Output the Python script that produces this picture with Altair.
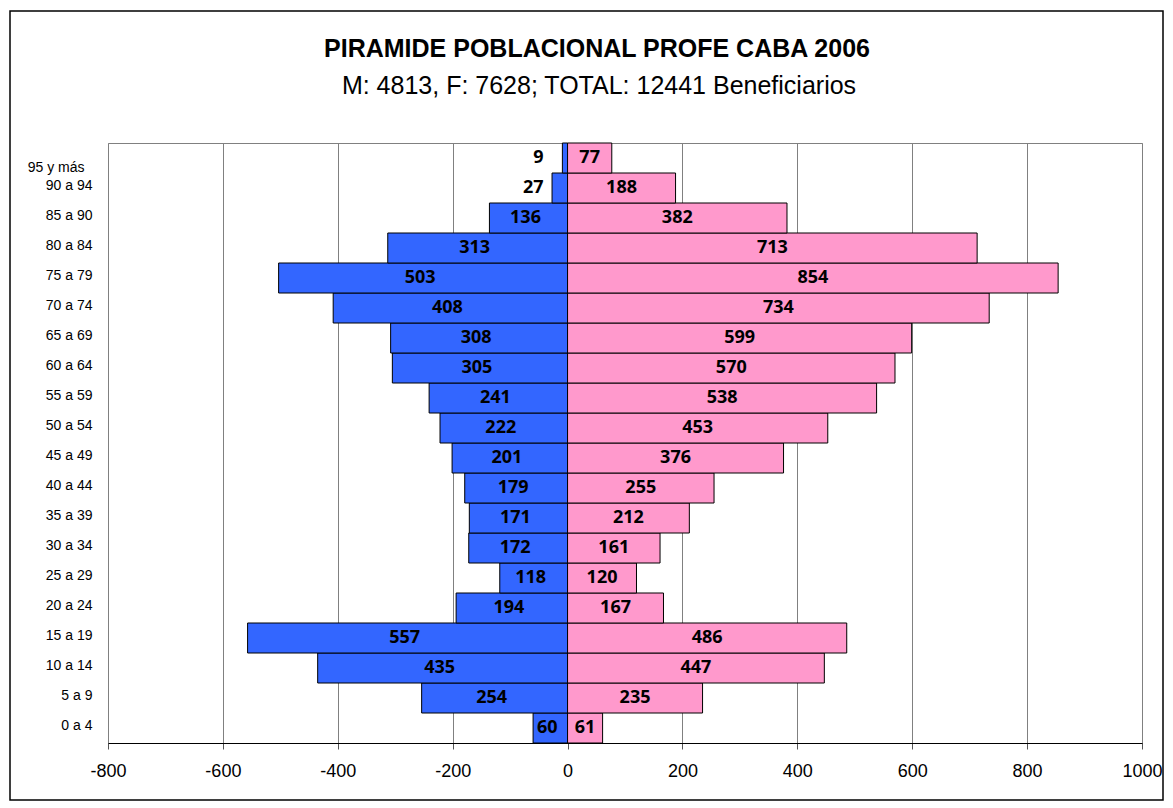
import altair as alt
import pandas as pd

ages = ["0 a 4", "5 a 9", "10 a 14", "15 a 19", "20 a 24", "25 a 29", "30 a 34",
        "35 a 39", "40 a 44", "45 a 49", "50 a 54", "55 a 59", "60 a 64", "65 a 69",
        "70 a 74", "75 a 79", "80 a 84", "85 a 90", "90 a 94", "95 y más"]
male = [60, 254, 435, 557, 194, 118, 172, 171, 179, 201, 222, 241, 305, 308,
        408, 503, 313, 136, 27, 9]
female = [61, 235, 447, 486, 167, 120, 161, 212, 255, 376, 453, 538, 570, 599,
          734, 854, 713, 382, 188, 77]
x_ticks = [-800, -600, -400, -200, 0, 200, 400, 600, 800, 1000]
title_text = "PIRAMIDE POBLACIONAL PROFE CABA 2006"
subtitle_text = "M: 4813, F: 7628; TOTAL: 12441 Beneficiarios"

rows = []
for a, m, f in zip(ages, male, female):
    rows.append({"age": a, "sex": "M", "v": m, "signed": -m})
    rows.append({"age": a, "sex": "F", "v": f, "signed": f})
df = pd.DataFrame(rows)

order = list(reversed(ages))

W, H = 1034, 600

xscale = alt.Scale(domain=[-800, 1000], nice=False, zero=False)
yscale = alt.Scale(domain=order, paddingInner=0, paddingOuter=0)

base = alt.Chart(df).transform_calculate(mid="datum.signed / 2")

bars = base.mark_bar(stroke="black", strokeWidth=1).encode(
    x=alt.X("signed:Q", scale=xscale, title=None,
            axis=alt.Axis(values=x_ticks, grid=True, gridColor="#808080", gridWidth=1,
                          domainColor="black", domainWidth=1, tickColor="#555555",
                          tickSize=6, labelFont="Liberation Sans", labelFontSize=18,
                          labelColor="black", labelPadding=13, labelFlush=False,
                          labelExpr="'' + datum.value")),
    y=alt.Y("age:N", sort=order, scale=yscale, title=None,
            axis=alt.Axis(domain=False, ticks=False, labelFont="Liberation Sans",
                          labelFontSize=14, labelColor="black", labelBaseline="middle",
                          labelPadding={"condition": {"test": "datum.value == '95 y más'", "value": 24}, "value": 16},
                          labelOffset={"condition": {"test": "datum.value == '95 y más'", "value": 10}, "value": -2})),
    color=alt.Color("sex:N", scale=alt.Scale(domain=["M", "F"], range=["#3366FF", "#FF99CC"]),
                    legend=None),
)

lab_font = dict(font="Noto Sans", fontSize=18, fontWeight="bold", color="black",
                baseline="middle")

lab_f = base.transform_filter("datum.sex == 'F'").mark_text(align="center", **lab_font).encode(
    x=alt.X("mid:Q", scale=xscale), y=alt.Y("age:N", sort=order, scale=yscale), text="v:Q")
lab_m = base.transform_filter("datum.sex == 'M' && datum.v >= 50").mark_text(
    align="center", dx=-3, **lab_font).encode(
    x=alt.X("mid:Q", scale=xscale), y=alt.Y("age:N", sort=order, scale=yscale), text="v:Q")
lab_small = base.transform_filter("datum.sex == 'M' && datum.v < 50").mark_text(
    align="right", dx=-24, **lab_font).encode(
    x=alt.datum(0, scale=xscale), y=alt.Y("age:N", sort=order, scale=yscale), text="v:Q")

one = pd.DataFrame({"t": [title_text], "s": [subtitle_text]})

frame = alt.Chart(one).mark_rect(fillOpacity=0, stroke="black", strokeWidth=1.5).encode(
    x=alt.value(-98), x2=alt.value(1055), y=alt.value(-132), y2=alt.value(657))

title = alt.Chart(one).mark_text(font="Liberation Sans", fontSize=25, fontWeight="bold",
                                 color="black", align="center", baseline="middle").encode(
    x=alt.value(489), y=alt.value(-94), text="t:N")
subtitle = alt.Chart(one).mark_text(font="Liberation Sans", fontSize=25, color="black",
                                    align="center", baseline="middle").encode(
    x=alt.value(491), y=alt.value(-57), text="s:N")

chart = alt.layer(frame, bars, lab_f, lab_m, lab_small, title, subtitle).properties(
    width=W, height=H, padding={"left": 1, "top": 2, "right": 0, "bottom": 0}
).configure_view(stroke="#808080", strokeWidth=1)

chart.save("out.html", embed_options={"renderer": "svg", "actions": False})
